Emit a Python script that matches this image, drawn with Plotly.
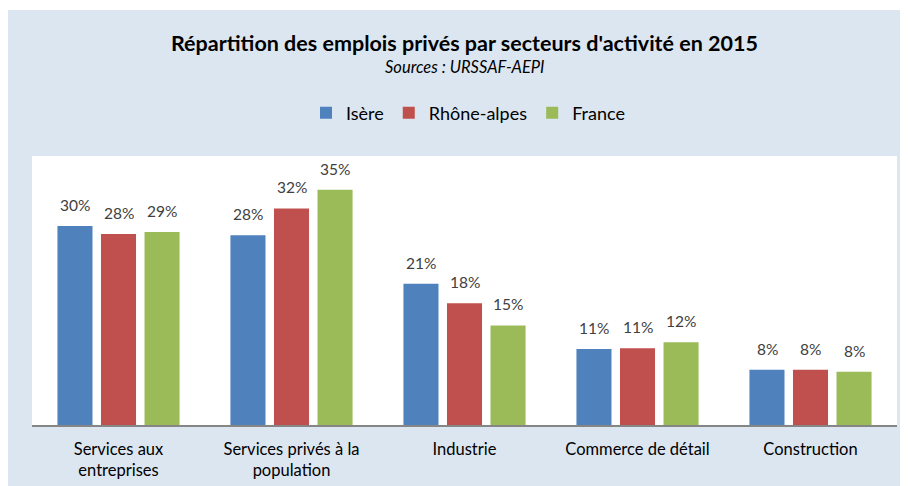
import plotly.graph_objects as go

# Data #
categories = ["Services aux<br>entreprises", "Services privés à la<br>population",
              "Industrie", "Commerce de détail", "Construction"]
isere = [29.6, 28.2, 21.0, 11.3, 8.2]
rhone_alpes = [28.4, 32.2, 18.1, 11.4, 8.2]
france = [28.7, 35.0, 14.8, 12.3, 7.9]

series = [("Isère", isere, "#4F81BD"),
          ("Rhône-alpes", rhone_alpes, "#C0504D"),
          ("France", france, "#9BBB59")]

# page has an 8px body margin, so the figure is drawn 8px in from the corner
OFF = 8
W, H = 908 - OFF, 486 - OFF
ml, mr, mt, mb = 32 - OFF, 11, 156 - OFF, 61
pw, ph = W - ml - mr, H - mt - mb
SLOT = 43.5  # pixel distance between bars inside a group


def px_x(p):
    # page pixel -> paper x
    return (p - OFF - ml) / pw


def px_y(p):
    # page pixel -> paper y
    return (H - mb - (p - OFF)) / ph


FONT = "Lato"
fig = go.Figure()

for i, (name, vals, color) in enumerate(series):
    fig.add_trace(go.Bar(
        x=categories,
        y=vals,
        name=name,
        marker=dict(color=color, line=dict(width=0)),
    ))
    # data labels, a little above the bars
    for cat, v in zip(categories, vals):
        fig.add_annotation(
            x=cat, y=v, text=f"{v:.0f}%",
            xref="x", yref="y",
            xshift=(i - 1) * SLOT, yshift=10,
            xanchor="center", yanchor="bottom",
            showarrow=False,
            font=dict(size=15.5, color="#404040", family=FONT),
        )

# background panel and white plot area
fig.add_shape(type="rect", xref="paper", yref="paper", layer="below",
              x0=px_x(8), x1=px_x(912), y0=px_y(490), y1=px_y(10),
              fillcolor="#DCE6F1", line=dict(width=0))
fig.add_shape(type="rect", xref="paper", yref="paper", layer="below",
              x0=0, x1=1, y0=0, y1=1,
              fillcolor="white", line=dict(width=0))

fig.add_annotation(text="<b>Répartition des emplois privés par secteurs d'activité en 2015</b>",
                   xref="paper", yref="paper", x=px_x(464), y=px_y(43),
                   xanchor="center", yanchor="middle", showarrow=False,
                   font=dict(size=21.5, color="#000000", family=FONT))
fig.add_annotation(text="<i>Sources : URSSAF-AEPI</i>",
                   xref="paper", yref="paper", x=px_x(465), y=px_y(67),
                   xanchor="center", yanchor="middle", showarrow=False,
                   font=dict(size=16.5, color="#000000", family=FONT))

fig.update_layout(
    width=W,
    height=H,
    margin=dict(l=ml, r=mr, t=mt, b=mb, pad=0),
    paper_bgcolor="white",
    plot_bgcolor="rgba(0,0,0,0)",
    barmode="group",
    bargap=0.245,
    bargroupgap=0.195,
    showlegend=True,
    legend=dict(
        orientation="h",
        x=px_x(468), xanchor="center",
        y=px_y(113), yanchor="middle",
        bgcolor="rgba(0,0,0,0)",
        font=dict(size=18, color="#000000", family=FONT),
        itemwidth=30,
    ),
    font=dict(family=FONT, color="#404040"),
)

fig.update_xaxes(
    showline=True,
    linecolor="#868686",
    linewidth=1.5,
    showgrid=False,
    ticks="",
    tickfont=dict(size=16.5, color="#000000", family=FONT),
    ticklabelstandoff=8,
    automargin=False,
)
fig.update_yaxes(
    range=[0, 40],
    visible=False,
    showgrid=False,
    zeroline=False,
    automargin=False,
)

fig.write_html("out.html")
